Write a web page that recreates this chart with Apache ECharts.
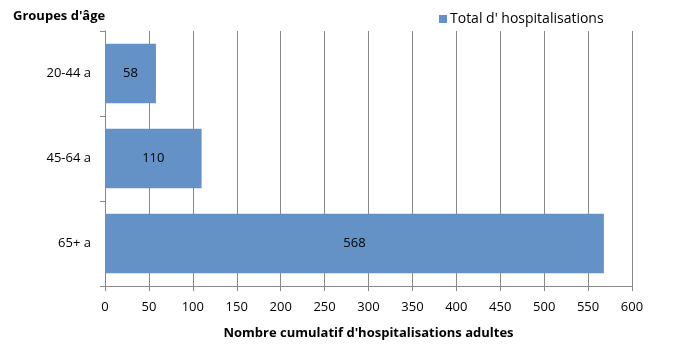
<!DOCTYPE html>
<html><head><meta charset="utf-8">
<script src="https://cdn.jsdelivr.net/npm/echarts@6/dist/echarts.min.js"></script>
<style>html,body{margin:0;padding:0;background:#fff}#c{width:680px;height:345px}</style>
</head><body><div id="c"></div>
<script>
const categories = ['65+ a', '45-64 a', '20-44 a'];
const values = [568, 110, 58];
const seriesName = "Total d' hospitalisations";
const xTicks = {min: 0, max: 600, interval: 50};
const font = "'Open Sans', 'Noto Sans', sans-serif";
const chart = echarts.init(document.getElementById('c'), null, {renderer: 'canvas'});
chart.setOption({
  animation: false,
  textStyle: {fontFamily: font},
  title: {text: "Groupes d'âge", left: 8, top: 5, textStyle: {fontSize: 13, fontWeight: 'bold', color: '#000', fontFamily: font}},
  legend: {data: [seriesName], left: 434, top: 7, itemWidth: 8, itemHeight: 8, itemGap: 4, icon: 'rect',
    textStyle: {fontSize: 14, color: '#000', fontFamily: font, padding: [0, 0, 0, -2]}},
  grid: {left: 105, right: 48, top: 31, bottom: 58},
  xAxis: {type: 'value', min: xTicks.min, max: xTicks.max, interval: xTicks.interval,
    name: "Nombre cumulatif d'hospitalisations adultes", nameLocation: 'middle', nameGap: 41,
    nameTextStyle: {fontSize: 13, fontWeight: 'bold', color: '#000', fontFamily: font},
    axisLine: {show: true, lineStyle: {color: '#888'}},
    axisTick: {show: true, length: 5, lineStyle: {color: '#888'}},
    axisLabel: {fontSize: 13, color: '#000', margin: 15, fontFamily: font},
    splitLine: {show: true, lineStyle: {color: '#888'}}},
  yAxis: {type: 'category', data: categories,
    axisLine: {show: true, lineStyle: {color: '#888'}},
    axisTick: {show: true, length: 5, lineStyle: {color: '#888'}},
    axisLabel: {fontSize: 13, color: '#000', margin: 14, fontFamily: font}},
  series: [{name: seriesName, type: 'bar', data: values, barCategoryGap: '30%',
    itemStyle: {color: '#6592C6'},
    label: {show: true, position: 'inside', color: '#000', fontSize: 13, fontFamily: font}}]
});
</script></body></html>
